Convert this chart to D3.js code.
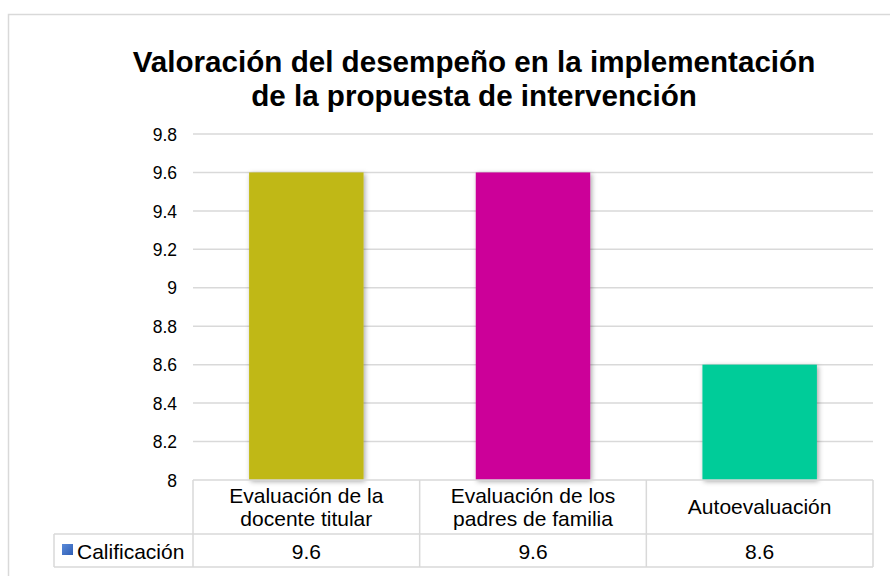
<!DOCTYPE html>
<html><head><meta charset="utf-8">
<script src="https://cdn.jsdelivr.net/npm/d3@7"></script>
<style>body{margin:0;background:#fff}svg{display:block;font-family:"Liberation Sans",Arial,sans-serif}</style>
</head><body>
<svg id="c" width="890" height="576"></svg>
<script>
const titleLines = ["Valoración del desempeño en la implementación", "de la propuesta de intervención"];
const categories = [["Evaluación de la", "docente titular"], ["Evaluación de los", "padres de familia"], ["Autoevaluación"]];
const values = [9.6, 9.6, 8.6];
const valueLabels = ["9.6", "9.6", "8.6"];
const barColors = ["#C0B812", "#CC0099", "#00CC99"];
const seriesName = "Calificación";
const tickValues = [8, 8.2, 8.4, 8.6, 8.8, 9, 9.2, 9.4, 9.6, 9.8];
const tickLabels = ["8", "8.2", "8.4", "8.6", "8.8", "9", "9.2", "9.4", "9.6", "9.8"];

(function(){
const svg = d3.select("#c");
const defs = svg.append("defs");
const f = defs.append("filter").attr("id","sh").attr("x","-20%").attr("y","-20%").attr("width","140%").attr("height","140%");
f.append("feDropShadow").attr("dx",1.5).attr("dy",1.5).attr("stdDeviation",2.5).attr("flood-color","#000").attr("flood-opacity",0.35);
const lg = defs.append("linearGradient").attr("id","lg").attr("x1",0).attr("y1",0).attr("x2",1).attr("y2",1);
lg.append("stop").attr("offset",0).attr("stop-color","#5B8BD9");
lg.append("stop").attr("offset",1).attr("stop-color","#2F5EB5");

svg.append("rect").attr("x",8.5).attr("y",14.5).attr("width",900).attr("height",600)
  .attr("fill","#fff").attr("stroke","#D9D9D9").attr("stroke-width",1.5);

const t = svg.append("text").attr("text-anchor","middle").attr("font-weight","bold").attr("font-size",29.6).attr("fill","#000");
titleLines.forEach((l,i)=>t.append("tspan").attr("x",474).attr("y",72+i*34).text(l));

const pL = 193, pR = 873, pT = 134, pB = 480;
const x = d3.scaleBand().domain(d3.range(categories.length)).range([pL,pR]).paddingInner(0).paddingOuter(0);
const y = d3.scaleLinear().domain([8, 9.8]).range([pB, pT]);

svg.append("g").selectAll("line").data(tickValues.filter(v=>v>8)).join("line")
  .attr("x1",pL).attr("x2",pR).attr("y1",d=>y(d)).attr("y2",d=>y(d))
  .attr("stroke","#D9D9D9").attr("stroke-width",1.5);

const ya = d3.axisLeft(y).tickValues(tickValues).tickFormat((d,i)=>tickLabels[i]).tickSize(0).tickPadding(16);
const yg = svg.append("g").attr("transform",`translate(${pL},0)`).call(ya);
yg.select(".domain").remove();
yg.selectAll("text").attr("font-size",17.5).attr("fill","#000").attr("font-family","Liberation Sans, Arial, sans-serif").attr("dy","0.35em");

const bw = x.bandwidth()*0.505;
svg.append("g").selectAll("rect").data(values).join("rect")
  .attr("x",(d,i)=>x(i)+(x.bandwidth()-bw)/2).attr("width",bw)
  .attr("y",d=>y(d)).attr("height",d=>y(8)-y(d))
  .attr("fill",(d,i)=>barColors[i]).attr("filter","url(#sh)");

const row1 = 480, row2 = 534, row3 = 567, legLeft = 54;
const tg = svg.append("g").attr("stroke","#D9D9D9").attr("stroke-width",1.5).attr("fill","none");
tg.append("line").attr("x1",pL).attr("x2",pR).attr("y1",row1).attr("y2",row1);
tg.append("line").attr("x1",legLeft).attr("x2",pR).attr("y1",row2).attr("y2",row2);
tg.append("line").attr("x1",legLeft).attr("x2",pR).attr("y1",row3).attr("y2",row3);
tg.append("line").attr("x1",legLeft).attr("x2",legLeft).attr("y1",row2).attr("y2",row3);
const vx = [pL, ...d3.range(categories.length).map(i=>x(i)+x.bandwidth())];
tg.selectAll(".v").data(vx).join("line").attr("x1",d=>d).attr("x2",d=>d).attr("y1",row1).attr("y2",row3);

const cg = svg.append("g").attr("font-size",21).attr("fill","#000").attr("text-anchor","middle");
categories.forEach((lines,i)=>{
  const cx = x(i)+x.bandwidth()/2;
  const n = lines.length;
  lines.forEach((l,j)=>{
    cg.append("text").attr("x",cx).attr("y",(row1+row2)/2 + (j-(n-1)/2)*23).attr("dy","0.35em").text(l);
  });
  cg.append("text").attr("x",cx).attr("y",(row2+row3)/2+1).attr("dy","0.35em").text(valueLabels[i]);
});
svg.append("rect").attr("x",62).attr("y",544).attr("width",11).attr("height",11).attr("fill","url(#lg)");
svg.append("text").attr("x",77).attr("y",(row2+row3)/2+1).attr("dy","0.35em").attr("font-size",21).attr("fill","#000").text(seriesName);
})();
</script>
</body></html>
